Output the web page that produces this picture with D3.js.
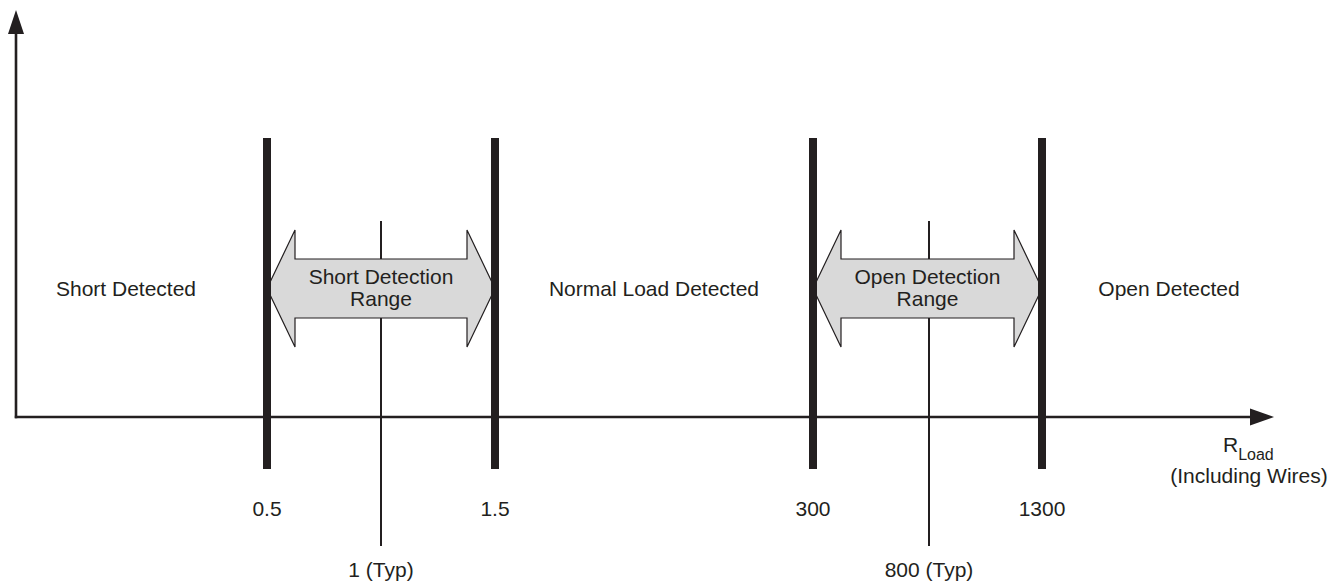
<!DOCTYPE html>
<html>
<head>
<meta charset="utf-8">
<script src="https://cdn.jsdelivr.net/npm/d3@7"></script>
<style>
  html, body { margin: 0; padding: 0; background: #fff; }
  svg { display: block; font-family: "Liberation Sans", Arial, sans-serif; }
</style>
</head>
<body>
<svg id="chart" width="1332" height="581"></svg>
<script>
// ---- data ----
const thresholds = [0.5, 1.5, 300, 1300];           // thick boundary bars
const typicals = [1, 800];                           // thin typical lines
const tickValues = [0.5, 1, 1.5, 300, 800, 1300];
const thresholdLabels = ["0.5", "1.5", "300", "1300"];
const typicalLabels = ["1 (Typ)", "800 (Typ)"];
const ranges = [[0.5, 1.5], [300, 1300]];
const rangeLabels = [["Short Detection", "Range"], ["Open Detection", "Range"]];
const regionLabels = ["Short Detected", "Normal Load Detected", "Open Detected"];

// ---- layout ----
const W = 1332, H = 581;
const ink = "#231f20";
const fontSize = 21;
const svg = d3.select("#chart");

// piecewise (non-linear) scale for RLoad
const x = d3.scaleLinear()
  .domain(tickValues)
  .range([267, 381, 495, 813, 929, 1042]);

const axisY = 417, axisX0 = 16, axisXEnd = 1274;
const yTop = 10;

// axes
svg.append("line").attr("x1", axisX0).attr("x2", axisX0).attr("y1", yTop + 20).attr("y2", axisY + 1.2)
  .attr("stroke", ink).attr("stroke-width", 2.6);
svg.append("line").attr("x1", axisX0 - 1.2).attr("x2", axisXEnd - 20).attr("y1", axisY).attr("y2", axisY)
  .attr("stroke", ink).attr("stroke-width", 2.6);
// arrow heads
svg.append("path").attr("d", `M${axisX0},${yTop} L${axisX0 + 8},${yTop + 24} L${axisX0 - 8},${yTop + 24} Z`).attr("fill", ink);
svg.append("path").attr("d", `M${axisXEnd},${axisY} L${axisXEnd - 24},${axisY - 8.5} L${axisXEnd - 24},${axisY + 8.5} Z`).attr("fill", ink);

// thin typical lines (behind arrows)
svg.selectAll("line.typ").data(typicals).enter().append("line")
  .attr("class", "typ")
  .attr("x1", d => x(d)).attr("x2", d => x(d))
  .attr("y1", 221).attr("y2", 546)
  .attr("stroke", ink).attr("stroke-width", 2);

// double-headed range arrows
const cy = 288.5, headH = 58.5, shaftH = 29.5, headL = 28;
function arrowPath(a, b) {
  const L = x(a), R = x(b);
  return `M${L},${cy} L${L + headL},${cy - headH} L${L + headL},${cy - shaftH} L${R - headL},${cy - shaftH} ` +
         `L${R - headL},${cy - headH} L${R},${cy} L${R - headL},${cy + headH} L${R - headL},${cy + shaftH} ` +
         `L${L + headL},${cy + shaftH} L${L + headL},${cy + headH} Z`;
}
svg.selectAll("path.range").data(ranges).enter().append("path")
  .attr("class", "range")
  .attr("d", d => arrowPath(d[0], d[1]))
  .attr("fill", "#d9d9d9").attr("stroke", ink).attr("stroke-width", 1.2).attr("stroke-linejoin", "miter");

svg.selectAll("text.rangeLbl").data(ranges).enter().append("text")
  .attr("class", "rangeLbl")
  .attr("text-anchor", "middle").attr("font-size", fontSize).attr("fill", ink)
  .each(function(d, i) {
    const cx = (x(d[0]) + x(d[1])) / 2;
    d3.select(this).attr("x", cx);
    rangeLabels[i].forEach((t, j) => {
      d3.select(this).append("tspan").attr("x", cx).attr("y", j === 0 ? 284 : 306).text(t);
    });
  });

// thick threshold bars
svg.selectAll("line.thr").data(thresholds).enter().append("line")
  .attr("class", "thr")
  .attr("x1", d => x(d)).attr("x2", d => x(d))
  .attr("y1", 138).attr("y2", 469)
  .attr("stroke", ink).attr("stroke-width", 8);

// tick labels
svg.selectAll("text.thrLbl").data(thresholds).enter().append("text")
  .attr("class", "thrLbl")
  .attr("x", d => x(d)).attr("y", 516)
  .attr("text-anchor", "middle").attr("font-size", fontSize).attr("fill", ink)
  .text((d, i) => thresholdLabels[i]);
svg.selectAll("text.typLbl").data(typicals).enter().append("text")
  .attr("class", "typLbl")
  .attr("x", d => x(d)).attr("y", 577)
  .attr("text-anchor", "middle").attr("font-size", fontSize).attr("fill", ink)
  .text((d, i) => typicalLabels[i]);

// region labels
const regionX = [126, (x(1.5) + x(300)) / 2, 1169];
svg.selectAll("text.region").data(regionLabels).enter().append("text")
  .attr("class", "region")
  .attr("x", (d, i) => regionX[i]).attr("y", 296)
  .attr("text-anchor", "middle").attr("font-size", fontSize).attr("fill", ink)
  .text(d => d);

// axis title
const title = svg.append("text").attr("x", 1223).attr("y", 452).attr("font-size", fontSize).attr("fill", ink);
title.append("tspan").text("R");
title.append("tspan").attr("dy", 8).attr("font-size", 16).text("Load");
svg.append("text").attr("x", 1249).attr("y", 483).attr("text-anchor", "middle")
  .attr("font-size", fontSize).attr("fill", ink).text("(Including Wires)");
</script>
</body>
</html>
